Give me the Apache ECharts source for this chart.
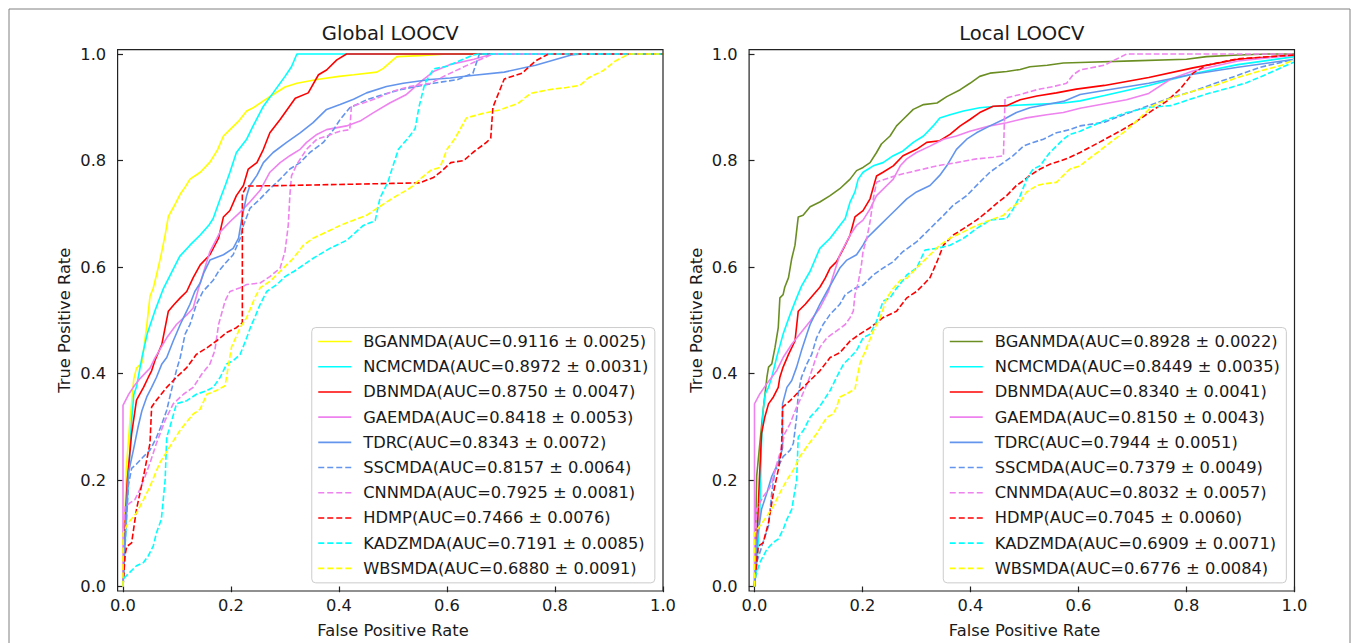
<!DOCTYPE html>
<html><head><meta charset="utf-8">
<script src="https://cdn.jsdelivr.net/npm/echarts/dist/echarts.min.js"></script>
<style>html,body{margin:0;padding:0;background:#fff}#c{width:1357px;height:643px}</style>
</head><body><div id="c"></div>
<script>
// ---------- DATA ----------
const methods = ['BGANMDA','NCMCMDA','DBNMDA','GAEMDA','TDRC','SSCMDA','CNNMDA','HDMP','KADZMDA','WBSMDA'];
const globalAUC = ['0.9116 ± 0.0025','0.8972 ± 0.0031','0.8750 ± 0.0047','0.8418 ± 0.0053','0.8343 ± 0.0072','0.8157 ± 0.0064','0.7925 ± 0.0081','0.7466 ± 0.0076','0.7191 ± 0.0085','0.6880 ± 0.0091'];
const localAUC = ['0.8928 ± 0.0022','0.8449 ± 0.0035','0.8340 ± 0.0041','0.8150 ± 0.0043','0.7944 ± 0.0051','0.7379 ± 0.0049','0.8032 ± 0.0057','0.7045 ± 0.0060','0.6909 ± 0.0071','0.6776 ± 0.0084'];
const axisTicks = [0, 0.2, 0.4, 0.6, 0.8, 1.0];

// Global LOOCV ROC curves [FPR, TPR]
const gBGANMDA = [[0,0],[0.003,0.1],[0.006,0.22],[0.012,0.3],[0.02,0.39],[0.025,0.41],[0.035,0.42],[0.044,0.49],[0.05,0.545],[0.056,0.56],[0.062,0.585],[0.07,0.62],[0.078,0.66],[0.084,0.695],[0.095,0.715],[0.106,0.737],[0.115,0.75],[0.124,0.765],[0.143,0.778],[0.161,0.797],[0.175,0.82],[0.186,0.846],[0.198,0.858],[0.215,0.875],[0.229,0.893],[0.241,0.899],[0.26,0.912],[0.278,0.924],[0.3,0.938],[0.322,0.945],[0.359,0.952],[0.4,0.958],[0.427,0.961],[0.47,0.966],[0.482,0.973],[0.5,0.989],[0.507,0.995],[0.55,0.997],[0.6,1.0],[1,1]];
const gNCMCMDA = [[0,0],[0.005,0.1],[0.01,0.2],[0.015,0.3],[0.02,0.36],[0.025,0.375],[0.035,0.43],[0.045,0.475],[0.06,0.52],[0.075,0.56],[0.09,0.59],[0.105,0.62],[0.124,0.641],[0.143,0.66],[0.16,0.68],[0.167,0.691],[0.18,0.728],[0.19,0.755],[0.198,0.778],[0.21,0.815],[0.229,0.84],[0.241,0.865],[0.26,0.902],[0.278,0.927],[0.3,0.958],[0.312,0.976],[0.322,1.0],[1,1]];
const gDBNMDA = [[0,0],[0.003,0.1],[0.008,0.2],[0.016,0.287],[0.025,0.35],[0.038,0.374],[0.047,0.393],[0.053,0.405],[0.059,0.424],[0.072,0.455],[0.084,0.517],[0.095,0.53],[0.106,0.542],[0.118,0.554],[0.13,0.58],[0.143,0.604],[0.161,0.623],[0.177,0.654],[0.186,0.694],[0.198,0.706],[0.21,0.734],[0.223,0.753],[0.232,0.784],[0.248,0.796],[0.26,0.821],[0.272,0.852],[0.291,0.877],[0.319,0.917],[0.343,0.927],[0.362,0.961],[0.377,0.97],[0.396,0.989],[0.414,1.0],[1,1]];
const gGAEMDA = [[0,0],[0,0.34],[0.01,0.36],[0.019,0.374],[0.031,0.39],[0.05,0.41],[0.059,0.429],[0.081,0.467],[0.099,0.492],[0.118,0.51],[0.13,0.523],[0.14,0.56],[0.161,0.629],[0.18,0.666],[0.198,0.685],[0.217,0.703],[0.235,0.722],[0.254,0.744],[0.272,0.778],[0.291,0.796],[0.309,0.809],[0.328,0.821],[0.34,0.834],[0.359,0.849],[0.377,0.858],[0.414,0.865],[0.439,0.874],[0.464,0.89],[0.494,0.908],[0.525,0.924],[0.556,0.952],[0.575,0.967],[0.605,0.98],[0.65,0.99],[0.685,1.0],[1,1]];
const gTDRC = [[0,0],[0.004,0.1],[0.01,0.213],[0.02,0.26],[0.028,0.3],[0.035,0.33],[0.044,0.356],[0.053,0.374],[0.062,0.393],[0.072,0.418],[0.081,0.43],[0.093,0.461],[0.106,0.492],[0.115,0.511],[0.124,0.53],[0.133,0.554],[0.143,0.57],[0.15,0.59],[0.161,0.613],[0.186,0.623],[0.204,0.635],[0.214,0.654],[0.22,0.691],[0.229,0.734],[0.235,0.753],[0.248,0.772],[0.26,0.796],[0.278,0.815],[0.303,0.834],[0.328,0.852],[0.352,0.871],[0.377,0.896],[0.402,0.905],[0.427,0.915],[0.451,0.927],[0.488,0.939],[0.519,0.945],[0.569,0.952],[0.606,0.955],[0.65,0.96],[0.706,0.966],[0.764,0.979],[0.83,0.998],[0.85,1.0],[1,1]];
const gSSCMDA = [[0,0],[0.005,0.1],[0.01,0.19],[0.016,0.222],[0.025,0.23],[0.038,0.244],[0.05,0.256],[0.062,0.28],[0.07,0.3],[0.081,0.331],[0.09,0.37],[0.1,0.41],[0.106,0.43],[0.115,0.474],[0.124,0.492],[0.136,0.53],[0.148,0.554],[0.167,0.575],[0.177,0.592],[0.192,0.61],[0.204,0.623],[0.217,0.654],[0.223,0.678],[0.235,0.71],[0.254,0.728],[0.272,0.747],[0.291,0.765],[0.309,0.784],[0.328,0.796],[0.346,0.815],[0.371,0.834],[0.39,0.858],[0.402,0.877],[0.42,0.899],[0.451,0.914],[0.482,0.924],[0.513,0.933],[0.544,0.939],[0.575,0.945],[0.62,0.952],[0.648,0.964],[0.66,1.0],[1,1]];
const gCNNMDA = [[0,0],[0,0.1],[0.004,0.15],[0.013,0.157],[0.022,0.163],[0.031,0.182],[0.041,0.207],[0.05,0.232],[0.062,0.269],[0.078,0.312],[0.093,0.343],[0.112,0.361],[0.13,0.374],[0.146,0.399],[0.161,0.418],[0.17,0.443],[0.177,0.492],[0.189,0.536],[0.198,0.554],[0.217,0.561],[0.229,0.567],[0.254,0.57],[0.272,0.582],[0.291,0.598],[0.3,0.629],[0.306,0.678],[0.309,0.734],[0.312,0.771],[0.322,0.793],[0.34,0.821],[0.359,0.84],[0.377,0.846],[0.402,0.855],[0.42,0.858],[0.423,0.902],[0.445,0.908],[0.47,0.917],[0.5,0.93],[0.531,0.939],[0.569,0.945],[0.6,0.961],[0.64,0.98],[0.685,1.0],[1,1]];
const gHDMP = [[0,0],[0.004,0.06],[0.007,0.075],[0.016,0.082],[0.025,0.145],[0.038,0.207],[0.05,0.269],[0.053,0.337],[0.062,0.35],[0.081,0.374],[0.099,0.393],[0.118,0.411],[0.136,0.436],[0.155,0.448],[0.173,0.461],[0.192,0.477],[0.21,0.486],[0.221,0.495],[0.221,0.737],[0.229,0.752],[0.3,0.753],[0.4,0.755],[0.5,0.757],[0.549,0.758],[0.575,0.768],[0.59,0.78],[0.607,0.796],[0.631,0.8],[0.648,0.815],[0.673,0.834],[0.681,0.842],[0.685,0.9],[0.706,0.953],[0.739,0.964],[0.764,0.987],[0.788,1.0],[1,1]];
const gKADZMDA = [[0,0],[0,0.014],[0.013,0.027],[0.025,0.039],[0.038,0.045],[0.047,0.058],[0.056,0.076],[0.062,0.101],[0.071,0.126],[0.078,0.2],[0.081,0.281],[0.087,0.3],[0.099,0.343],[0.118,0.349],[0.136,0.361],[0.155,0.368],[0.167,0.374],[0.18,0.393],[0.192,0.418],[0.204,0.424],[0.217,0.436],[0.229,0.467],[0.238,0.492],[0.244,0.505],[0.254,0.53],[0.266,0.554],[0.285,0.567],[0.3,0.582],[0.317,0.592],[0.35,0.615],[0.383,0.635],[0.414,0.65],[0.445,0.678],[0.467,0.687],[0.476,0.73],[0.49,0.758],[0.5,0.79],[0.51,0.821],[0.531,0.846],[0.541,0.86],[0.548,0.9],[0.559,0.945],[0.575,0.972],[0.6,0.977],[0.63,0.99],[0.648,0.998],[0.66,1.0],[1,1]];
const gWBSMDA = [[0,0],[0,0.1],[0.01,0.12],[0.025,0.138],[0.038,0.163],[0.05,0.188],[0.068,0.232],[0.087,0.263],[0.106,0.294],[0.13,0.324],[0.143,0.333],[0.155,0.361],[0.173,0.368],[0.189,0.377],[0.201,0.45],[0.217,0.486],[0.229,0.505],[0.244,0.542],[0.254,0.561],[0.272,0.573],[0.297,0.598],[0.315,0.616],[0.334,0.641],[0.352,0.654],[0.377,0.666],[0.402,0.678],[0.427,0.688],[0.451,0.697],[0.47,0.71],[0.488,0.722],[0.507,0.734],[0.525,0.744],[0.538,0.753],[0.55,0.765],[0.569,0.781],[0.587,0.787],[0.6,0.821],[0.615,0.842],[0.636,0.88],[0.665,0.888],[0.698,0.895],[0.731,0.907],[0.755,0.926],[0.788,0.933],[0.821,0.937],[0.846,0.941],[0.863,0.956],[0.888,0.968],[0.912,0.987],[0.937,1.0],[1,1]];

// Local LOOCV ROC curves [FPR, TPR]
const lBGANMDA = [[0,0],[0.002,0.1],[0.004,0.207],[0.01,0.27],[0.016,0.331],[0.023,0.393],[0.026,0.412],[0.032,0.418],[0.038,0.449],[0.044,0.486],[0.047,0.542],[0.053,0.548],[0.056,0.562],[0.063,0.58],[0.069,0.616],[0.075,0.641],[0.081,0.694],[0.09,0.697],[0.103,0.713],[0.121,0.722],[0.14,0.734],[0.158,0.747],[0.177,0.765],[0.189,0.781],[0.201,0.787],[0.214,0.796],[0.226,0.815],[0.235,0.831],[0.251,0.846],[0.263,0.865],[0.275,0.877],[0.294,0.896],[0.313,0.905],[0.338,0.908],[0.356,0.92],[0.381,0.933],[0.399,0.945],[0.417,0.958],[0.436,0.964],[0.467,0.967],[0.492,0.971],[0.51,0.976],[0.542,0.979],[0.572,0.983],[0.603,0.984],[0.7,0.987],[0.8,0.99],[0.837,0.995],[0.895,0.998],[0.95,1.0],[1,1]];
const lNCMCMDA = [[0,0],[0.005,0.05],[0.01,0.145],[0.013,0.269],[0.016,0.331],[0.02,0.362],[0.026,0.374],[0.032,0.393],[0.041,0.43],[0.053,0.474],[0.066,0.511],[0.078,0.542],[0.087,0.564],[0.103,0.592],[0.121,0.635],[0.14,0.654],[0.158,0.678],[0.168,0.691],[0.177,0.722],[0.186,0.741],[0.192,0.765],[0.201,0.778],[0.22,0.79],[0.238,0.796],[0.257,0.809],[0.275,0.818],[0.294,0.834],[0.313,0.846],[0.331,0.865],[0.343,0.88],[0.362,0.886],[0.387,0.893],[0.417,0.899],[0.448,0.902],[0.51,0.905],[0.572,0.908],[0.603,0.912],[0.648,0.922],[0.73,0.941],[0.812,0.963],[0.895,0.98],[1,0.995]];
const lDBNMDA = [[0,0],[0.005,0.1],[0.009,0.2],[0.013,0.287],[0.019,0.318],[0.026,0.343],[0.035,0.356],[0.044,0.374],[0.047,0.393],[0.053,0.412],[0.063,0.436],[0.075,0.461],[0.081,0.517],[0.094,0.53],[0.109,0.548],[0.121,0.562],[0.131,0.579],[0.14,0.598],[0.152,0.61],[0.165,0.635],[0.177,0.66],[0.186,0.694],[0.201,0.706],[0.214,0.728],[0.226,0.771],[0.238,0.778],[0.257,0.79],[0.275,0.809],[0.3,0.821],[0.319,0.834],[0.343,0.837],[0.362,0.849],[0.381,0.865],[0.399,0.877],[0.417,0.89],[0.442,0.902],[0.467,0.903],[0.492,0.914],[0.523,0.921],[0.559,0.927],[0.596,0.934],[0.648,0.941],[0.73,0.956],[0.812,0.974],[0.895,0.99],[1,0.998]];
const lGAEMDA = [[0,0],[0,0.1],[0,0.343],[0.01,0.362],[0.023,0.381],[0.041,0.405],[0.053,0.43],[0.069,0.455],[0.084,0.474],[0.103,0.498],[0.121,0.523],[0.137,0.554],[0.143,0.575],[0.158,0.623],[0.177,0.66],[0.189,0.678],[0.201,0.688],[0.214,0.709],[0.226,0.734],[0.245,0.753],[0.257,0.765],[0.27,0.79],[0.282,0.803],[0.3,0.815],[0.325,0.827],[0.35,0.84],[0.374,0.846],[0.399,0.855],[0.436,0.865],[0.467,0.871],[0.504,0.88],[0.541,0.886],[0.572,0.89],[0.603,0.898],[0.689,0.914],[0.73,0.926],[0.771,0.953],[0.812,0.968],[0.895,0.987],[1,0.998]];
const lTDRC = [[0,0],[0.004,0.083],[0.013,0.145],[0.023,0.176],[0.032,0.207],[0.044,0.232],[0.052,0.26],[0.052,0.343],[0.06,0.374],[0.069,0.387],[0.078,0.412],[0.087,0.443],[0.097,0.474],[0.103,0.492],[0.112,0.511],[0.121,0.53],[0.134,0.554],[0.143,0.57],[0.158,0.598],[0.171,0.613],[0.189,0.623],[0.201,0.641],[0.208,0.654],[0.226,0.672],[0.245,0.691],[0.263,0.709],[0.282,0.728],[0.3,0.741],[0.325,0.753],[0.343,0.772],[0.356,0.79],[0.374,0.821],[0.393,0.84],[0.411,0.852],[0.436,0.865],[0.461,0.877],[0.485,0.89],[0.51,0.899],[0.541,0.905],[0.572,0.911],[0.603,0.924],[0.65,0.932],[0.73,0.945],[0.812,0.962],[0.895,0.975],[1,0.99]];
const lSSCMDA = [[0,0],[0.004,0.045],[0.016,0.083],[0.026,0.114],[0.032,0.176],[0.038,0.219],[0.044,0.225],[0.053,0.244],[0.066,0.256],[0.072,0.269],[0.078,0.318],[0.081,0.362],[0.087,0.393],[0.097,0.418],[0.106,0.436],[0.115,0.467],[0.127,0.492],[0.14,0.511],[0.158,0.53],[0.168,0.548],[0.186,0.56],[0.201,0.566],[0.22,0.585],[0.238,0.598],[0.257,0.61],[0.275,0.629],[0.3,0.647],[0.325,0.672],[0.35,0.697],[0.368,0.716],[0.393,0.734],[0.417,0.759],[0.436,0.778],[0.461,0.796],[0.479,0.809],[0.498,0.827],[0.516,0.834],[0.535,0.84],[0.559,0.852],[0.584,0.858],[0.603,0.865],[0.648,0.872],[0.689,0.888],[0.73,0.903],[0.771,0.918],[0.812,0.93],[0.853,0.945],[0.895,0.96],[0.936,0.975],[1,0.99]];
const lCNNMDA = [[0,0],[0.002,0.1],[0.004,0.145],[0.007,0.151],[0.016,0.169],[0.026,0.182],[0.032,0.194],[0.038,0.219],[0.047,0.25],[0.056,0.287],[0.066,0.306],[0.078,0.337],[0.087,0.356],[0.1,0.387],[0.112,0.424],[0.121,0.449],[0.134,0.467],[0.152,0.48],[0.168,0.492],[0.177,0.505],[0.183,0.517],[0.186,0.548],[0.192,0.57],[0.198,0.604],[0.201,0.629],[0.208,0.654],[0.214,0.685],[0.22,0.728],[0.226,0.759],[0.233,0.762],[0.263,0.772],[0.3,0.781],[0.338,0.79],[0.374,0.796],[0.411,0.803],[0.442,0.806],[0.461,0.809],[0.464,0.917],[0.492,0.924],[0.523,0.933],[0.554,0.939],[0.578,0.945],[0.59,0.961],[0.603,0.97],[0.648,0.979],[0.689,1.0],[1,1]];
const lHDMP = [[0,0],[0.004,0.045],[0.007,0.076],[0.016,0.082],[0.026,0.12],[0.035,0.176],[0.044,0.219],[0.05,0.256],[0.052,0.337],[0.066,0.349],[0.084,0.368],[0.103,0.387],[0.121,0.405],[0.14,0.43],[0.158,0.439],[0.177,0.461],[0.195,0.474],[0.214,0.486],[0.238,0.505],[0.263,0.517],[0.282,0.542],[0.3,0.554],[0.313,0.567],[0.325,0.58],[0.338,0.61],[0.35,0.641],[0.368,0.66],[0.387,0.672],[0.411,0.688],[0.43,0.703],[0.448,0.719],[0.467,0.734],[0.485,0.753],[0.498,0.762],[0.51,0.772],[0.529,0.784],[0.547,0.793],[0.566,0.799],[0.584,0.806],[0.603,0.815],[0.64,0.835],[0.68,0.857],[0.705,0.872],[0.738,0.895],[0.763,0.911],[0.788,0.934],[0.812,0.964],[0.837,0.979],[0.895,0.991],[1,0.998]];
const lKADZMDA = [[0,0],[0.002,0.02],[0.01,0.045],[0.023,0.07],[0.035,0.083],[0.044,0.089],[0.053,0.107],[0.06,0.126],[0.069,0.145],[0.078,0.2],[0.081,0.281],[0.091,0.294],[0.103,0.318],[0.115,0.331],[0.124,0.343],[0.14,0.368],[0.152,0.393],[0.165,0.418],[0.177,0.43],[0.189,0.443],[0.201,0.467],[0.214,0.474],[0.226,0.498],[0.238,0.536],[0.251,0.542],[0.263,0.56],[0.275,0.575],[0.282,0.585],[0.3,0.598],[0.316,0.632],[0.338,0.635],[0.362,0.641],[0.387,0.654],[0.411,0.672],[0.436,0.688],[0.467,0.691],[0.479,0.709],[0.492,0.734],[0.504,0.765],[0.516,0.784],[0.529,0.79],[0.538,0.803],[0.547,0.815],[0.559,0.827],[0.572,0.84],[0.584,0.849],[0.603,0.855],[0.648,0.875],[0.689,0.89],[0.73,0.9],[0.771,0.903],[0.804,0.914],[0.837,0.925],[0.878,0.936],[0.911,0.946],[0.944,0.96],[0.977,0.975],[1,0.985]];
const lWBSMDA = [[0,0],[0,0.1],[0.01,0.114],[0.023,0.132],[0.035,0.151],[0.047,0.176],[0.06,0.2],[0.072,0.219],[0.084,0.244],[0.097,0.263],[0.115,0.287],[0.134,0.318],[0.146,0.324],[0.152,0.337],[0.158,0.356],[0.171,0.362],[0.186,0.371],[0.195,0.418],[0.208,0.449],[0.22,0.48],[0.233,0.505],[0.245,0.542],[0.257,0.56],[0.27,0.575],[0.282,0.579],[0.3,0.598],[0.325,0.623],[0.343,0.641],[0.362,0.654],[0.387,0.666],[0.411,0.678],[0.436,0.688],[0.461,0.697],[0.473,0.71],[0.492,0.722],[0.504,0.741],[0.523,0.753],[0.535,0.756],[0.559,0.759],[0.572,0.772],[0.584,0.784],[0.603,0.79],[0.615,0.8],[0.64,0.819],[0.664,0.838],[0.689,0.857],[0.714,0.88],[0.738,0.903],[0.763,0.914],[0.788,0.922],[0.812,0.93],[0.853,0.941],[0.895,0.956],[0.936,0.968],[0.977,0.979],[1,0.99]];

const globalCurves = [gBGANMDA,gNCMCMDA,gDBNMDA,gGAEMDA,gTDRC,gSSCMDA,gCNNMDA,gHDMP,gKADZMDA,gWBSMDA];
const localCurves = [lBGANMDA,lNCMCMDA,lDBNMDA,lGAEMDA,lTDRC,lSSCMDA,lCNNMDA,lHDMP,lKADZMDA,lWBSMDA];

// ---------- STYLE / LAYOUT ----------
const FONT = 'DejaVu Sans';
const TXT = '#1a1a1a';
const colorsGlobal = ['#ffff00','#00ffff','#ff0000','#ee82ee','#6495ed','#6495ed','#ee82ee','#ff0000','#00ffff','#ffff00'];
const colorsLocal  = ['#6b8e23','#00ffff','#ff0000','#ee82ee','#6495ed','#6495ed','#ee82ee','#ff0000','#00ffff','#ffff00'];
const dashed = [false,false,false,false,false,true,true,true,true,true];
const ICON_SOLID = 'path://M0,0H33V1.6H0Z';
const ICON_DASH = 'path://M0,0H6V1.6H0ZM9,0H15V1.6H9ZM18,0H24V1.6H18ZM27,0H33V1.6H27Z';
const W = 1357, H = 643;
const panels = [
  {x0: 123, title: 'Global LOOCV', curves: globalCurves, auc: globalAUC, colors: colorsGlobal},
  {x0: 754.5, title: 'Local LOOCV', curves: localCurves, auc: localAUC, colors: colorsLocal}
];
const PW = 540, PT = 54, PH = 537, PADL = 5.4, PADT = 4.4, LEGPAD = 8.15;

const option = {
  animation: false,
  backgroundColor: '#ffffff',
  title: [], grid: [], xAxis: [], yAxis: [], legend: [], series: [], graphic: []
};
option.graphic.push({type:'rect', silent:true, z:0, shape:{x:9, y:9, width:1341, height:660}, style:{fill:'none', stroke:'#808080', lineWidth:1}});

panels.forEach((p, gi) => {
  option.title.push({text: p.title, left: p.x0 + PW/2 - PADL/2, top: 23, textAlign: 'center', padding: 0,
    textStyle: {fontFamily: FONT, fontSize: 19.6, fontWeight: 'normal', color: TXT, lineHeight: 20}});
  option.grid.push({left: p.x0, top: PT, width: PW, height: PH, containLabel: false});
  const labelStyle = {fontFamily: FONT, fontSize: 16.3, color: TXT};
  const tick = {show: true, inside: false, length: 5.7, lineStyle: {color: '#222', width: 1.2}};
  option.xAxis.push({gridIndex: gi, type: 'value', min: axisTicks[0], max: axisTicks[axisTicks.length-1], interval: axisTicks[1]-axisTicks[0],
    axisLine: {show: false}, axisTick: tick, splitLine: {show: false},
    axisLabel: Object.assign({margin: 10.5, formatter: v => v.toFixed(1)}, labelStyle),
    name: 'False Positive Rate', nameLocation: 'middle', nameGap: 35.5,
    nameTextStyle: Object.assign({lineHeight: 16}, labelStyle)});
  option.yAxis.push({gridIndex: gi, type: 'value', min: axisTicks[0], max: axisTicks[axisTicks.length-1], interval: axisTicks[1]-axisTicks[0],
    offset: PADL, axisLine: {show: false}, axisTick: tick, splitLine: {show: false},
    axisLabel: Object.assign({margin: 11.4, formatter: v => v.toFixed(1)}, labelStyle),
    name: 'True Positive Rate', nameLocation: 'middle', nameGap: 45,
    nameTextStyle: Object.assign({lineHeight: 16}, labelStyle)});
  // axes frame (spines)
  option.graphic.push({type:'rect', silent:true, z:10,
    shape:{x: p.x0 - PADL, y: PT - PADT, width: PW + PADL, height: PH + PADT},
    style:{fill:'none', stroke:'#222', lineWidth:1.2}});
  const legendData = [];
  methods.forEach((m, i) => {
    const name = m + '(AUC=' + p.auc[i] + ')';
    legendData.push({name: name, icon: dashed[i] ? ICON_DASH : ICON_SOLID});
    option.series.push({type: 'line', name: name, xAxisIndex: gi, yAxisIndex: gi, data: p.curves[i],
      symbol: 'none', showSymbol: false, clip: false, silent: true,
      lineStyle: {color: p.colors[i], width: 1.6, type: dashed[i] ? [5.8, 2.5] : 'solid'},
      itemStyle: {color: p.colors[i]}});
  });
  option.legend.push({data: legendData, orient: 'vertical', selectedMode: false,
    right: W - (p.x0 + PW - LEGPAD), bottom: H - (PT + PH - LEGPAD),
    itemWidth: 33, itemHeight: 1.6, itemGap: 9.2, padding: [6, 6.5, 6.5, 6.5],
    backgroundColor: 'rgba(255,255,255,0.8)', borderColor: '#cccccc', borderWidth: 1, borderRadius: 4,
    itemStyle: {borderWidth: 0},
    textStyle: {fontFamily: FONT, fontSize: 16.3, color: TXT, lineHeight: 16, padding: [0, 0, 0, 7]}});
});

const chart = echarts.init(document.getElementById('c'), null, {renderer: 'svg', width: W, height: H});
chart.setOption(option);
</script></body></html>
